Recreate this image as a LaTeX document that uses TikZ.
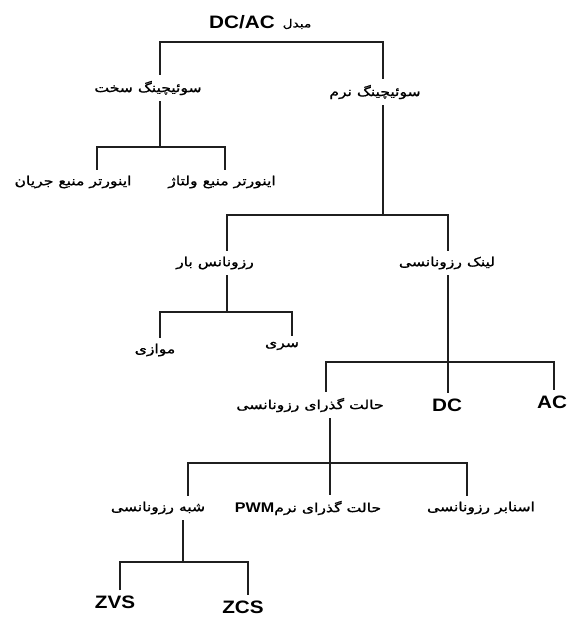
\documentclass[tikz,border=0pt]{standalone}
\usepackage{fontspec}
\TeXXeTstate=1
\newfontfamily\fafont[Script=Arabic,FakeStretch=1.25,FakeBold=1.2]{DejaVu Sans}
\newfontfamily\latfont[FakeStretch=1.15]{Liberation Sans Bold}
\begin{document}
\begin{tikzpicture}[x=1pt,y=-1pt,
  fa/.style={font=\fafont\fontsize{12.5}{14}\selectfont, inner xsep=3pt, inner ysep=6pt},
  la/.style={font=\latfont\fontsize{18}{20}\selectfont, inner xsep=3pt, inner ysep=5pt},
  edge/.style={line width=2.2pt, draw=black!88, line cap=butt, line join=miter}]
\useasboundingbox (0,0) rectangle (573,619);
% nodes
\node[la] (dcac) at (242,22) {DC/AC};
\node[fa, font=\fafont\fontsize{11}{13}\selectfont] (mobdel) at (297,24) {\beginR مبدل\endR};
\node[fa] (hard) at (148,88) {\beginR سوئیچینگ سخت\endR};
\node[fa] (soft) at (375,92) {\beginR سوئیچینگ نرم\endR};
\node[fa] (csi) at (73,182) {\beginR اینورتر منبع جریان\endR};
\node[fa] (vsi) at (222,182) {\beginR اینورتر منبع ولتاژ\endR};
\node[fa] (load) at (215,263) {\beginR رزونانس بار\endR};
\node[fa] (link) at (447,263) {\beginR لینک رزونانسی\endR};
\node[fa] (par) at (155,350) {\beginR موازی\endR};
\node[fa] (ser) at (282,346) {\beginR سری\endR};
\node[fa] (trans) at (310,405) {\beginR حالت گذرای رزونانسی\endR};
\node[la] (dc) at (447,405) {DC};
\node[la] (ac) at (552,402) {AC};
\node[fa] (quasi) at (158,508) {\beginR شبه رزونانسی\endR};
\node[fa] (pwm) at (308,508) {\beginR حالت گذرای نرم\beginL{\latfont\fontsize{14}{16}\selectfont PWM}\endL\endR};
\node[fa] (snub) at (481,508) {\beginR اسنابر رزونانسی\endR};
\node[la] (zvs) at (115,602) {ZVS};
\node[la] (zcs) at (243,607) {ZCS};
% junction coordinates
\coordinate (a0L) at (160,42); \coordinate (a0R) at (383,42);
\coordinate (a1) at (160,147); \coordinate (a1L) at (97,147); \coordinate (a1R) at (225,147);
\coordinate (a2) at (383,215); \coordinate (a2L) at (227,215); \coordinate (a2R) at (448,215);
\coordinate (a3) at (227,312); \coordinate (a3L) at (160,312); \coordinate (a3R) at (292,312);
\coordinate (a4) at (448,362); \coordinate (a4L) at (326,362); \coordinate (a4R) at (554,362);
\coordinate (a5) at (330,463); \coordinate (a5L) at (188,463); \coordinate (a5R) at (467,463);
\coordinate (a6) at (183,562); \coordinate (a6L) at (120,562); \coordinate (a6R) at (248,562);
% connectors
\draw[edge] (a0L |- hard.north) -- (a0L) -- (a0R) -- (a0R |- soft.north);
\draw[edge] (hard.south -| a1) -- (a1);
\draw[edge] (a1L |- csi.north) -- (a1L) -- (a1R) -- (a1R |- vsi.north);
\draw[edge] (soft.south -| a2) -- (a2);
\draw[edge] (a2L |- load.north) -- (a2L) -- (a2R) -- (a2R |- link.north);
\draw[edge] (load.south -| a3) -- (a3);
\draw[edge] (a3L |- par.north) -- (a3L) -- (a3R) -- (a3R |- ser.north);
\draw[edge] (link.south -| a4) -- (a4 |- dc.north);
\draw[edge] (a4L |- trans.north) -- (a4L) -- (a4R) -- (a4R |- ac.north);
\draw[edge] (trans.south -| a5) -- (a5 |- pwm.north);
\draw[edge] (a5L |- quasi.north) -- (a5L) -- (a5R) -- (a5R |- snub.north);
\draw[edge] (quasi.south -| a6) -- (a6);
\draw[edge] (a6L |- zvs.north) -- (a6L) -- (a6R) -- (a6R |- zcs.north);
\end{tikzpicture}
\end{document}
